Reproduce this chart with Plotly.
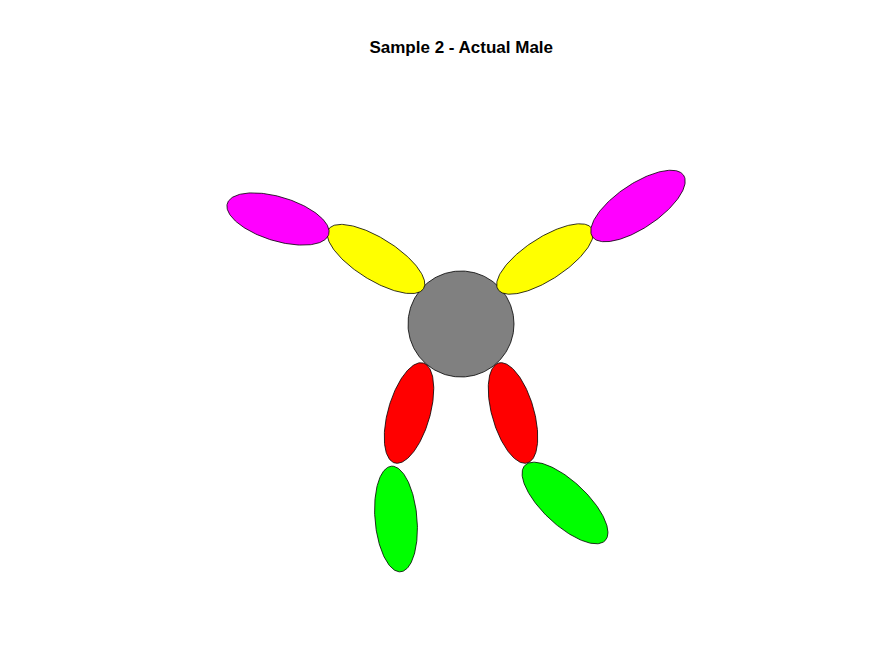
import numpy as np
import plotly.graph_objects as go

# body parts: centre (px), semi-axes (px), tilt angle (deg, math sense)
parts = ["head", "l_upper_arm", "l_forearm", "r_upper_arm", "r_forearm",
         "l_thigh", "r_thigh", "l_shin", "r_shin"]
cx = [453, 368, 270, 537, 630, 401, 505, 388, 557]
cy = [316, 251, 211, 251, 198, 405, 405, 511, 495]
semi_a = [53, 56, 53, 56, 55, 52, 52, 53, 55]
semi_b = [53, 21, 22, 21, 22, 21, 21, 21, 22]
angle = [0, -32, -17, 33, 34, 74, 106, 95, -43]
colors = ["#808080", "#ffff00", "#ff00ff", "#ffff00", "#ff00ff",
          "#ff0000", "#ff0000", "#00ff00", "#00ff00"]

t = np.linspace(0, 2 * np.pi, 200)
fig = go.Figure()
for i in range(len(parts)):
    th = np.radians(angle[i])
    x = cx[i] + semi_a[i] * np.cos(t) * np.cos(th) - semi_b[i] * np.sin(t) * np.sin(th)
    y = cy[i] - (semi_a[i] * np.cos(t) * np.sin(th) + semi_b[i] * np.sin(t) * np.cos(th))
    fig.add_trace(go.Scatter(x=x, y=y, mode="lines", fill="toself",
                             fillcolor=colors[i], line=dict(color="black", width=0.8),
                             name=parts[i], hoverinfo="skip"))

fig.update_layout(
    width=875, height=656, margin=dict(l=0, r=0, t=0, b=0),
    paper_bgcolor="white", plot_bgcolor="white", showlegend=False,
    title=dict(text="<b>Sample 2 - Actual Male</b>", x=0.518, y=0.95, xanchor="center",
               font=dict(family="Liberation Sans, Arial", size=17, color="black")),
    xaxis=dict(range=[0, 875], visible=False),
    yaxis=dict(range=[656, 0], visible=False),
)
fig.write_html("out.html")
